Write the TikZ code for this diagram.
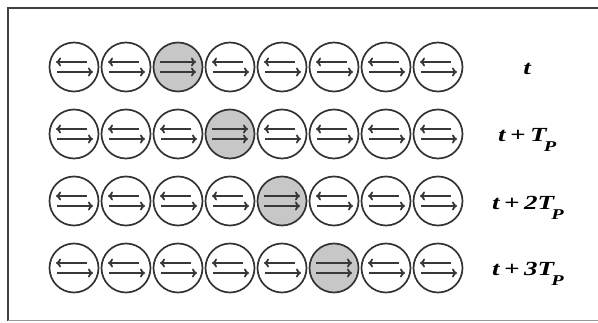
\documentclass[tikz,border=0pt]{standalone}
\usepackage{fontspec}
\setmainfont{Liberation Serif}
\usetikzlibrary{arrows.meta}
\newcommand{\tsub}{\kern-2pt\raisebox{-10pt}{\fontsize{15}{15}\selectfont P}}
\newcommand{\lbl}[1]{\scalebox{1.35}[1]{\fontsize{20}{22}\selectfont\bfseries\itshape #1}}
\begin{document}
\begin{tikzpicture}[x=1pt,y=-1pt,
  cell/.style={circle,draw=black!80,line width=1.7pt,minimum size=49pt,inner sep=0pt},
  hot/.style={cell,fill=black!22},
  arr/.style={line width=1.8pt,draw=black!78,-{To[length=5pt,width=9pt]}},
  lab/.style={inner sep=0pt,anchor=base west}]
\useasboundingbox (0,0) rectangle (598,323);
\draw[line width=1.5pt,black!75] (598,8) -- (8,8) -- (8,321);
\draw[line width=1pt,black!40] (8,321) -- (598,321);
\foreach \r/\y in {1/67,2/134,3/201,4/268} {
  \foreach \c in {1,...,8} {
    \pgfmathtruncatemacro\hc{\r+2}
    \pgfmathsetmacro\xx{74+52*(\c-1)}
    \ifnum\c=\hc
      \node[hot] (n\r-\c) at (\xx,\y) {};
      \draw[arr] (n\r-\c.center) ++(-18,-5) -- ++(36,0);
      \draw[arr] (n\r-\c.center) ++(-18,5) -- ++(36,0);
    \else
      \node[cell] (n\r-\c) at (\xx,\y) {};
      \draw[arr] (n\r-\c.center) ++(13,-5) -- ++(-31,0);
      \draw[arr] (n\r-\c.center) ++(-17,5) -- ++(36,0);
    \fi
  }
}
\node[inner sep=0pt,anchor=base] (l1) at (527,75) {\lbl{t}};
\node[lab] (l2) at (498,142) {\lbl{t\,+\,T\tsub}};
\node[lab] (l3) at (492,210) {\lbl{t\,+\,2T\tsub}};
\node[lab] (l4) at (492,276) {\lbl{t\,+\,3T\tsub}};
\end{tikzpicture}
\end{document}
